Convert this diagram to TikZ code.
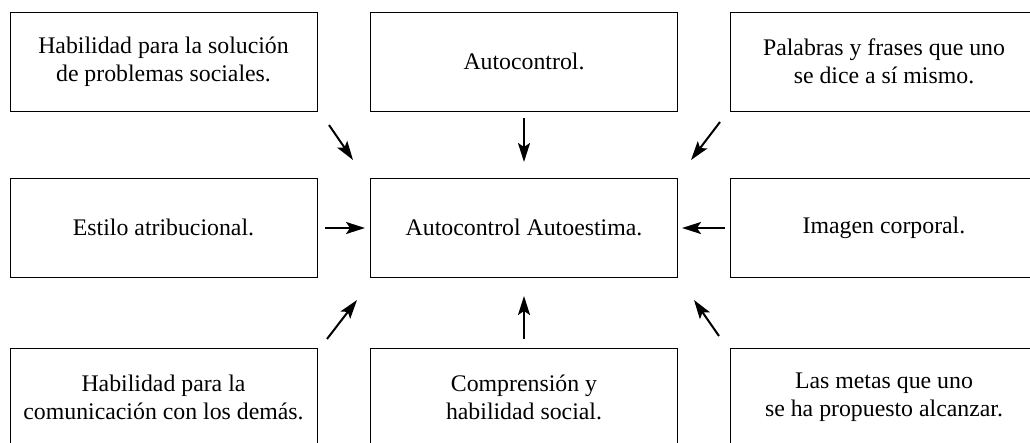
\documentclass[tikz,border=0pt]{standalone}
\usepackage{fontspec}
\setmainfont{Liberation Serif}
\usetikzlibrary{arrows.meta}
\begin{document}
\begin{tikzpicture}[x=1pt,y=-1pt,
  box/.style={draw, line width=1pt, minimum width=307pt, minimum height=99pt, inner sep=0pt, align=center, font=\fontsize{23.8}{28}\selectfont},
  arr/.style={-{Stealth[length=19pt,width=12pt,inset=4pt]}, line width=2pt}]
\useasboundingbox (0,0) rectangle (1030,442);
% boxes
\node[box] (tl) at (163.5,61.5) {Habilidad para la solución\\de problemas sociales.};
\node[box] (tm) at (524,61.5) {Autocontrol.};
\node[box] (tr) at (884,61.5) {Palabras y frases que uno\\se dice a sí mismo.};
\node[box] (ml) at (163.5,227.5) {Estilo atribucional.};
\node[box] (mm) at (524,227.5) {Autocontrol Autoestima.};
\node[box] (mr) at (884,227.5) {Imagen corporal.};
\node[box] (bl) at (163.5,397.5) {Habilidad para la\\comunicación con los demás.};
\node[box] (bm) at (524,397.5) {Comprensión y\\habilidad social.};
\node[box] (br) at (884,397.5) {Las metas que uno\\se ha propuesto alcanzar.};
% arrow end points
\coordinate (a1s) at (329,125);  \coordinate (a1e) at (353,160);
\coordinate (a2s) at (524,118);  \coordinate (a2e) at (524,162);
\coordinate (a3s) at (720,122);  \coordinate (a3e) at (691,160);
\coordinate (a4s) at (325,228);  \coordinate (a4e) at (365,228);
\coordinate (a5s) at (725,228);  \coordinate (a5e) at (682,228);
\coordinate (a6s) at (327,339);  \coordinate (a6e) at (357,300);
\coordinate (a7s) at (524,339);  \coordinate (a7e) at (524,296);
\coordinate (a8s) at (719,336);  \coordinate (a8e) at (694,300);
\draw[arr] (a1s) -- (a1e);
\draw[arr] (a2s) -- (a2e);
\draw[arr] (a3s) -- (a3e);
\draw[arr] (a4s) -- (a4e);
\draw[arr] (a5s) -- (a5e);
\draw[arr] (a6s) -- (a6e);
\draw[arr] (a7s) -- (a7e);
\draw[arr] (a8s) -- (a8e);
\end{tikzpicture}
\end{document}
